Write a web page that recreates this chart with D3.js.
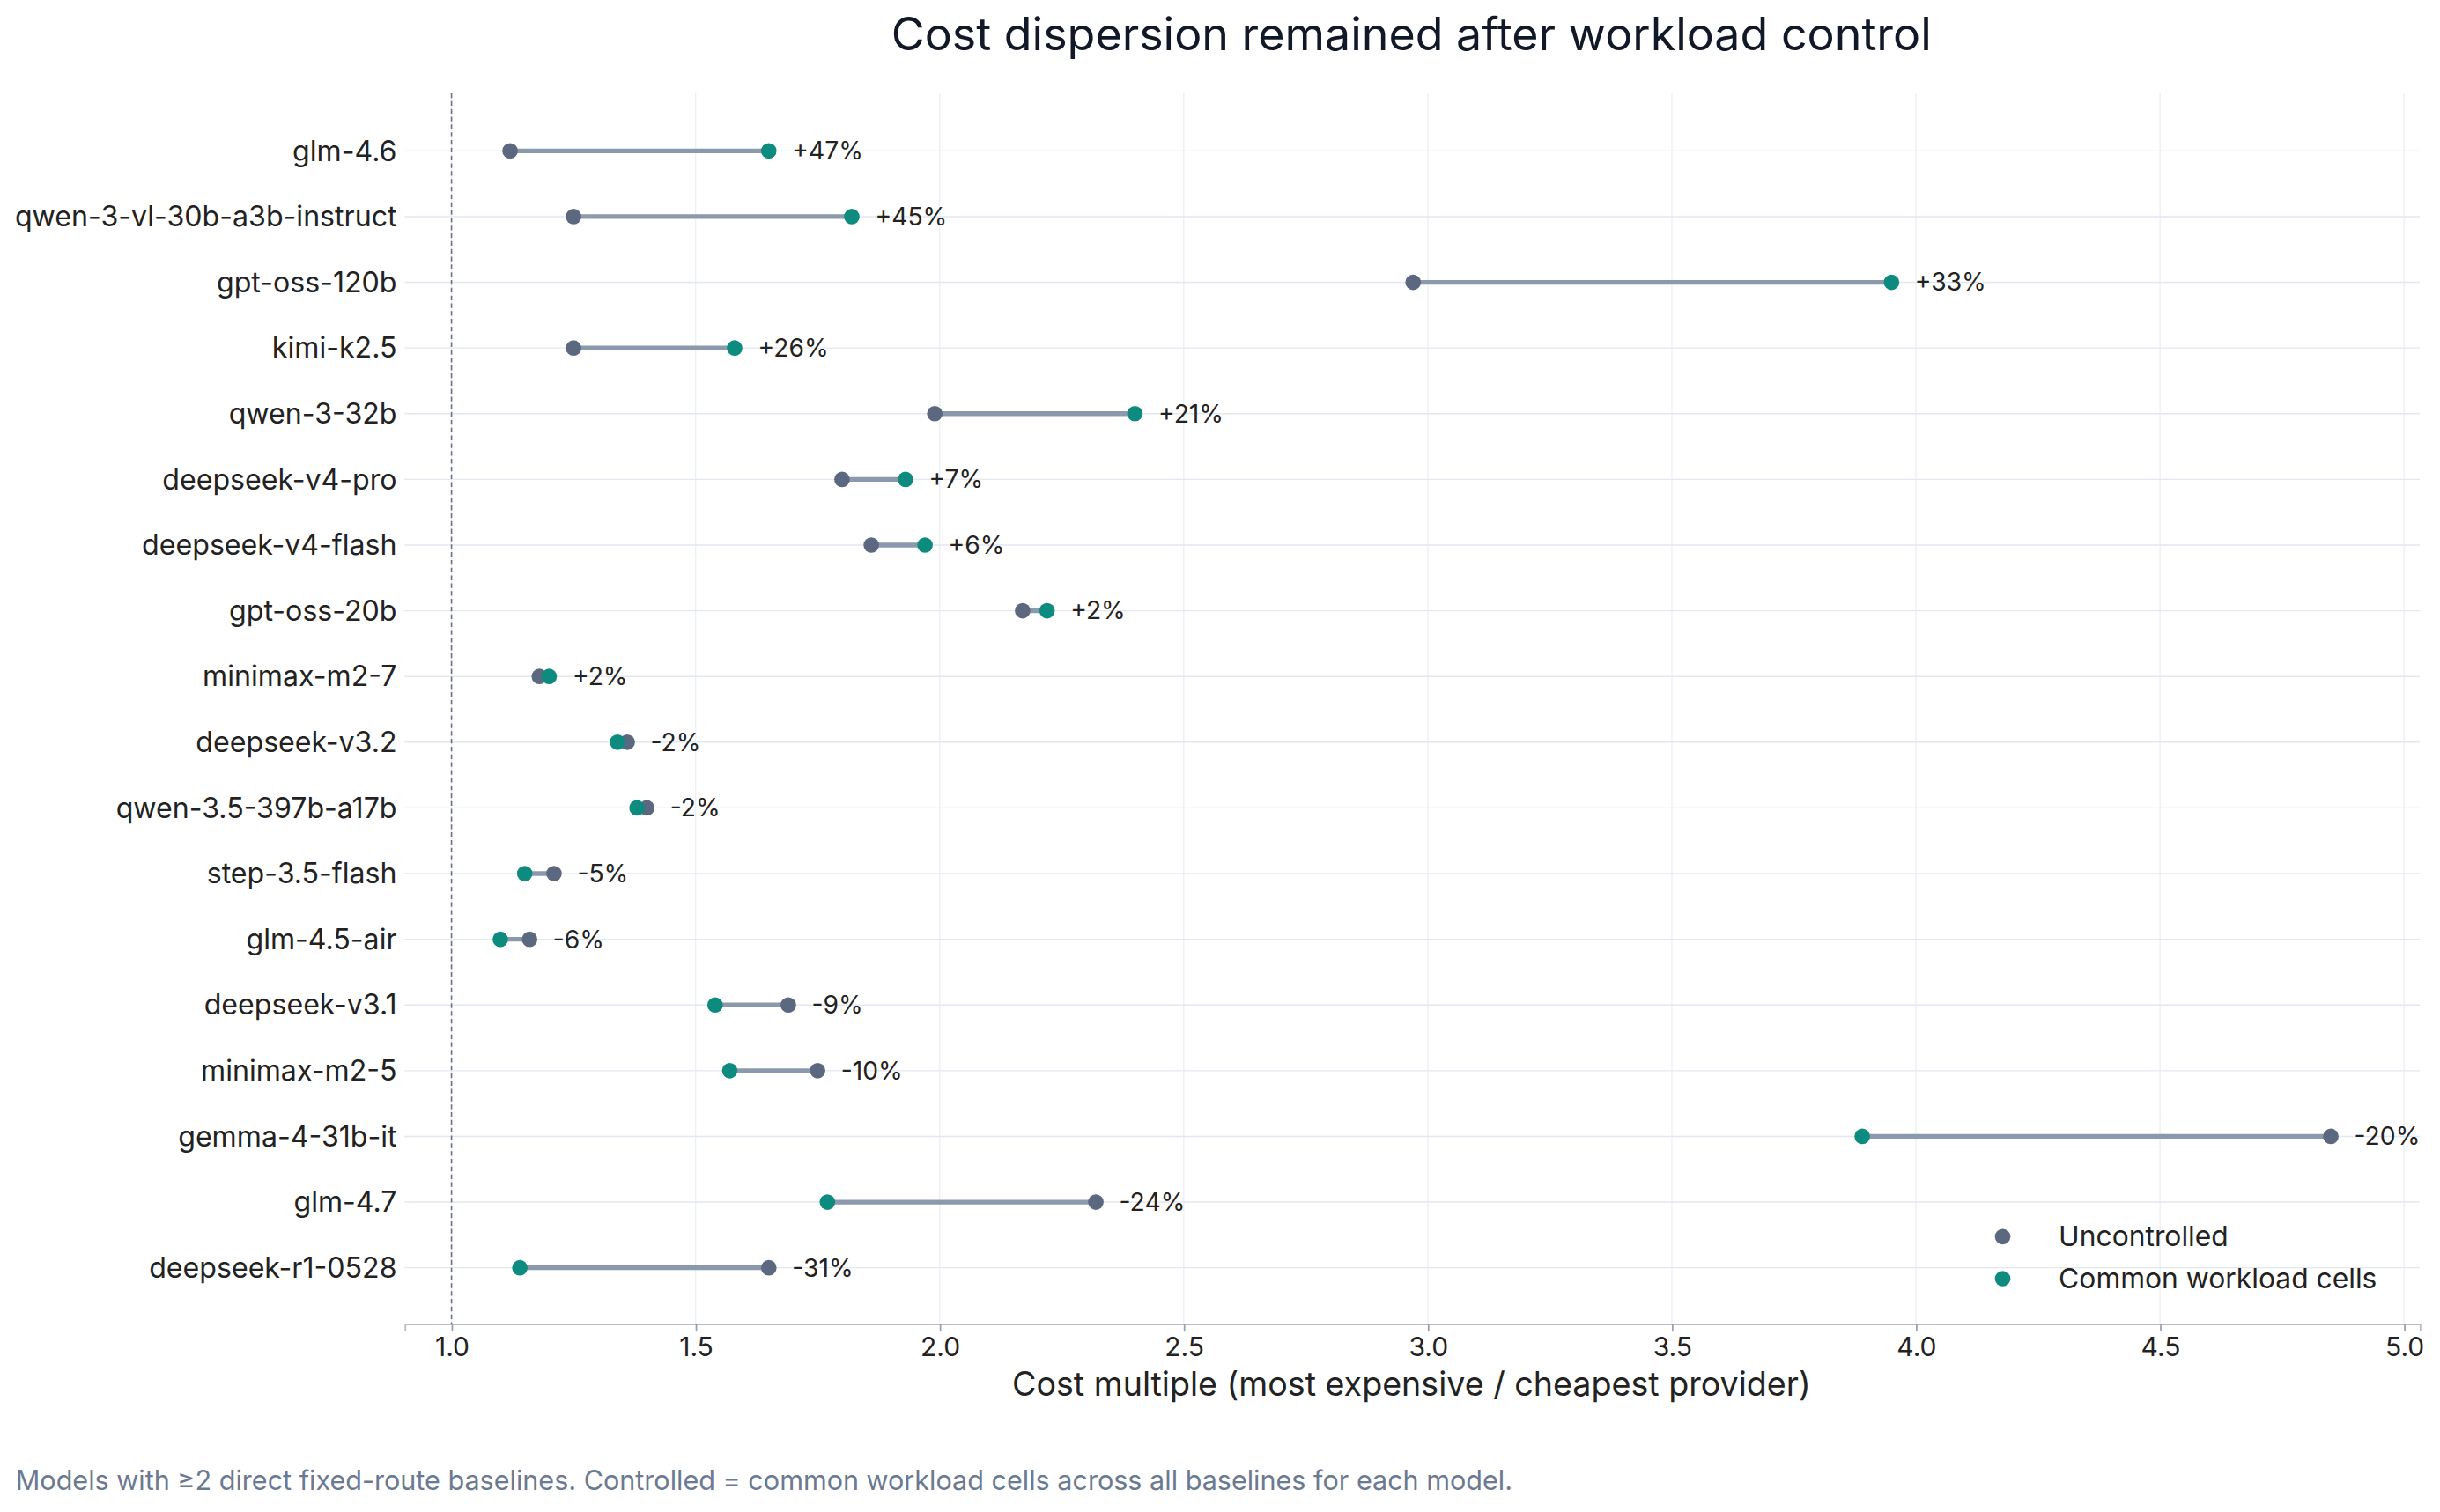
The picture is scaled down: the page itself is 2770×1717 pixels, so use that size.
<!DOCTYPE html>
<html><head><meta charset="utf-8">
<script src="https://cdn.jsdelivr.net/npm/d3@7"></script>
<style>body{margin:0;background:#fff}svg{display:block}text{font-family:"Inter","Noto Sans",sans-serif}</style>
</head><body>
<svg id="c" width="2770" height="1717" viewBox="0 0 1568 972"></svg>
<script>
const models=["glm-4.6","qwen-3-vl-30b-a3b-instruct","gpt-oss-120b","kimi-k2.5","qwen-3-32b","deepseek-v4-pro","deepseek-v4-flash","gpt-oss-20b","minimax-m2-7","deepseek-v3.2","qwen-3.5-397b-a17b","step-3.5-flash","glm-4.5-air","deepseek-v3.1","minimax-m2-5","gemma-4-31b-it","glm-4.7","deepseek-r1-0528"];
const uncontrolled=[1.12,1.25,2.97,1.25,1.99,1.80,1.86,2.17,1.18,1.36,1.40,1.21,1.16,1.69,1.75,4.85,2.32,1.65];
const controlled=[1.65,1.82,3.95,1.58,2.40,1.93,1.97,2.22,1.20,1.34,1.38,1.15,1.10,1.54,1.57,3.89,1.77,1.14];
const changeLabels=["+47%","+45%","+33%","+26%","+21%","+7%","+6%","+2%","+2%","-2%","-2%","-5%","-6%","-9%","-10%","-20%","-24%","-31%"];
const xTicks=[1.0,1.5,2.0,2.5,3.0,3.5,4.0,4.5,5.0];
const svg=d3.select("#c");
const L=260,R=1555,T=60,B=851;
const x=d3.scaleLinear().domain([0.904,5.032]).range([L,R]);
const y=d3.scalePoint().domain(models).range([97,815]);
const cU="#5b6880",cC="#0e8b7f",cLine="#8b99ad";
svg.append("g").selectAll("line").data(xTicks).join("line").attr("x1",d=>x(d)).attr("x2",d=>x(d)).attr("y1",T).attr("y2",B).attr("stroke","#eef0f5").attr("stroke-width",0.8);
svg.append("g").selectAll("line").data(models).join("line").attr("x1",L).attr("x2",R).attr("y1",d=>y(d)).attr("y2",d=>y(d)).attr("stroke","#e3e7ef").attr("stroke-width",0.8);
svg.append("line").attr("x1",x(1)).attr("x2",x(1)).attr("y1",T).attr("y2",B).attr("stroke","#6b7280").attr("stroke-width",0.9).attr("stroke-dasharray","3,2");
const ax=svg.append("g").attr("transform",`translate(0,${B})`).call(d3.axisBottom(x).tickValues(xTicks).tickFormat(d3.format(".1f")).tickSize(5).tickPadding(4));
ax.select(".domain").attr("stroke","#b8bcc4");
ax.selectAll(".tick line").attr("stroke","#9aa0aa");
ax.selectAll("text").attr("font-size",17).attr("fill","#222");
svg.append("g").selectAll("text").data(models).join("text").attr("x",L-5).attr("y",d=>y(d)).attr("dy","0.35em").attr("text-anchor","end").attr("font-size",18.2).attr("fill","#222").text(d=>d);
const g=svg.append("g");
models.forEach((m,i)=>{
 const yy=y(m);
 g.append("line").attr("x1",x(uncontrolled[i])).attr("x2",x(controlled[i])).attr("y1",yy).attr("y2",yy).attr("stroke",cLine).attr("stroke-width",3);
 g.append("circle").attr("cx",x(uncontrolled[i])).attr("cy",yy).attr("r",5).attr("fill",cU);
 g.append("circle").attr("cx",x(controlled[i])).attr("cy",yy).attr("r",5).attr("fill",cC);
 g.append("text").attr("x",x(Math.max(uncontrolled[i],controlled[i]))+15).attr("y",yy).attr("dy","0.35em").attr("font-size",16).attr("fill","#222").text(changeLabels[i]);
});
[["Uncontrolled",cU,795],["Common workload cells",cC,822]].forEach(([t,c,yy])=>{
 svg.append("circle").attr("cx",1287).attr("cy",yy).attr("r",5).attr("fill",c);
 svg.append("text").attr("x",1323).attr("y",yy).attr("dy","0.35em").attr("font-size",18).attr("fill","#222").text(t);
});
svg.append("text").attr("x",907).attr("y",22).attr("dy","0.35em").attr("text-anchor","middle").attr("font-size",29.4).attr("fill","#111827").text("Cost dispersion remained after workload control");
svg.append("text").attr("x",907).attr("y",895).attr("dy","0.1em").attr("text-anchor","middle").attr("font-size",21.3).attr("fill","#222").text("Cost multiple (most expensive / cheapest provider)");
svg.append("text").attr("x",10).attr("y",952).attr("dy","0.35em").attr("font-size",17.3).attr("fill","#6b7a90").text("Models with ≥2 direct fixed-route baselines. Controlled = common workload cells across all baselines for each model.");
</script>
</body></html>
